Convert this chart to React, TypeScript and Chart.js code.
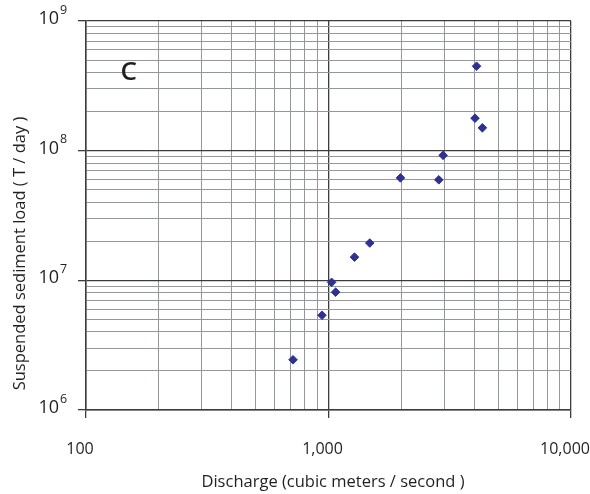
import React, { useEffect, useRef } from "react";
import { Chart, registerables } from "chart.js";

Chart.register(...registerables);

// Data (discharge m3/s, suspended sediment load T/day)
const discharge = [4080, 4020, 4310, 2970, 1980, 2850, 1480, 1280, 1030, 1070, 940, 714];
const sedimentLoad = [4.48e8, 1.78e8, 1.5e8, 9.2e7, 6.17e7, 5.96e7, 1.94e7, 1.51e7, 9.65e6, 8.11e6, 5.38e6, 2.44e6];

// Axis decades and tick labels
const xDecades = [100, 1000, 10000];
const xTickLabels = ["100", "1,000", "10,000"];
const yDecades = [1e6, 1e7, 1e8, 1e9];
const yExponents = ["6", "7", "8", "9"];
const minorMultipliers = [1, 2, 3, 4, 5, 6, 7, 8, 9];

const xTitle = "Discharge (cubic meters / second )";
const yTitle = "Suspended sediment load ( T / day )";
const panelLabel = "C";

const FONT = '"Open Sans", "Noto Sans", sans-serif';
const TEXT_COLOR = "#231f20";

function isPow10(v: number) {
  const l = Math.log10(v);
  return Math.abs(l - Math.round(l)) < 1e-9;
}

function gridValues(decades: number[]) {
  const vals: number[] = [];
  for (let i = 0; i < decades.length - 1; i++) {
    for (const m of minorMultipliers) vals.push(decades[i] * m);
  }
  vals.push(decades[decades.length - 1]);
  return vals;
}

const labelsPlugin = {
  id: "labelsPlugin",
  afterDraw(chart: any) {
    const ctx = chart.ctx as CanvasRenderingContext2D;
    const xs = chart.scales.x;
    const ys = chart.scales.y;
    ctx.save();
    ctx.fillStyle = TEXT_COLOR;

    // y tick labels 10^n
    yDecades.forEach((v, i) => {
      const py = ys.getPixelForValue(v);
      ctx.font = `18px ${FONT}`;
      ctx.textAlign = "right";
      ctx.textBaseline = "middle";
      ctx.fillText("10", 59, py - 2);
      ctx.font = `12.5px ${FONT}`;
      ctx.textAlign = "left";
      ctx.fillText(yExponents[i], 60, py - 11);
    });

    // x tick labels
    ctx.font = `16px ${FONT}`;
    ctx.textAlign = "center";
    ctx.textBaseline = "middle";
    xDecades.forEach((v, i) => {
      const px = xs.getPixelForValue(v);
      ctx.fillText(xTickLabels[i], px - 6, 449.5);
    });

    // x title
    ctx.font = `16.5px ${FONT}`;
    ctx.textAlign = "center";
    ctx.textBaseline = "alphabetic";
    ctx.fillText(xTitle, 333, 487);

    // y title
    ctx.save();
    ctx.translate(25, 253.5);
    ctx.rotate(-Math.PI / 2);
    ctx.font = `16.5px ${FONT}`;
    ctx.textAlign = "center";
    ctx.textBaseline = "alphabetic";
    ctx.fillText(yTitle, 0, 0);
    ctx.restore();

    // panel label
    ctx.font = `600 26px ${FONT}`;
    ctx.textAlign = "center";
    ctx.textBaseline = "alphabetic";
    ctx.fillText(panelLabel, 128.7, 80);

    ctx.restore();
  },
};

export default function App() {
  const canvasRef = useRef<HTMLCanvasElement | null>(null);

  useEffect(() => {
    if (!canvasRef.current) return;
    const points = discharge.map((x, i) => ({ x, y: sedimentLoad[i] }));
    const majorColor = "#3c3c3c";
    const minorColor = "#94979c";

    const chart = new Chart(canvasRef.current, {
      type: "scatter",
      data: {
        datasets: [
          {
            data: points,
            pointStyle: "rectRot",
            pointRadius: 4.3,
            pointBackgroundColor: "#2e3192",
            pointBorderColor: "#2e3192",
            pointBorderWidth: 1,
          },
        ],
      },
      options: {
        animation: false,
        responsive: true,
        maintainAspectRatio: false,
        layout: { padding: { left: 78, right: 19, top: 21, bottom: 76 } },
        plugins: { legend: { display: false }, tooltip: { enabled: false } },
        scales: {
          x: {
            type: "logarithmic",
            min: xDecades[0],
            max: xDecades[xDecades.length - 1],
            afterBuildTicks: (scale: any) => {
              scale.ticks = gridValues(xDecades).map((v) => ({ value: v, major: isPow10(v) }));
            },
            ticks: { display: false },
            border: { display: true, color: majorColor, width: 1.5 },
            grid: {
              color: (c: any) => (c.tick && isPow10(c.tick.value) ? majorColor : minorColor),
              lineWidth: (c: any) => (c.tick && isPow10(c.tick.value) ? 1.3 : 1),
              tickColor: (c: any) => (c.tick && isPow10(c.tick.value) ? majorColor : "rgba(0,0,0,0)"),
              tickLength: 8,
              drawTicks: true,
            },
          },
          y: {
            type: "logarithmic",
            min: yDecades[0],
            max: yDecades[yDecades.length - 1],
            afterBuildTicks: (scale: any) => {
              scale.ticks = gridValues(yDecades).map((v) => ({ value: v, major: isPow10(v) }));
            },
            ticks: { display: false },
            border: { display: true, color: majorColor, width: 1.5 },
            grid: {
              color: (c: any) => (c.tick && isPow10(c.tick.value) ? majorColor : minorColor),
              lineWidth: (c: any) => (c.tick && isPow10(c.tick.value) ? 1.3 : 1),
              tickColor: (c: any) => (c.tick && isPow10(c.tick.value) ? majorColor : "rgba(0,0,0,0)"),
              tickLength: 8,
              drawTicks: true,
            },
          },
        },
      },
      plugins: [labelsPlugin],
    });
    return () => chart.destroy();
  }, []);

  return (
    <div style={{ position: "fixed", left: 0, top: 0, width: 590, height: 494, background: "#fff" }}>
      <canvas ref={canvasRef} />
    </div>
  );
}
